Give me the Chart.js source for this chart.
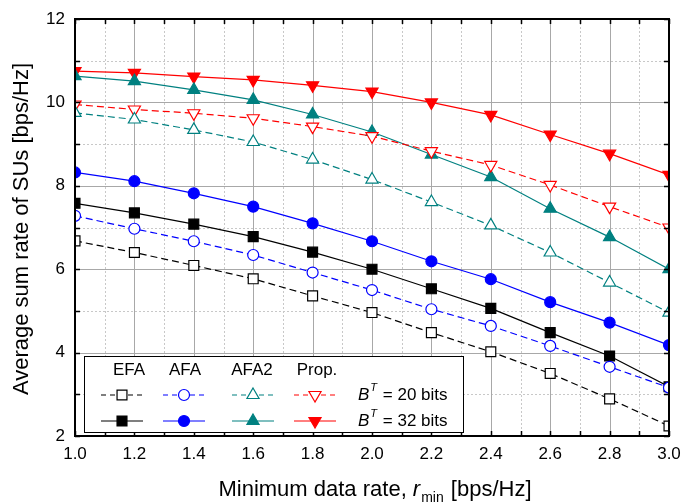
<!DOCTYPE html>
<html>
<head>
<meta charset="utf-8">
<script src="https://cdn.jsdelivr.net/npm/chart.js@4/dist/chart.umd.min.js"></script>
<style>
  html, body { margin: 0; padding: 0; background: #fff; }
  #wrap { width: 683px; height: 503px; }
</style>
</head>
<body>
<div id="wrap"><canvas id="sumRateChart" width="683" height="503"></canvas></div>
<script>
// x values (minimum data rate)
var rMin = [1.0, 1.2, 1.4, 1.6, 1.8, 2.0, 2.2, 2.4, 2.6, 2.8, 3.0];

// B^T = 20 bits (open markers, dashed)
var efa20  = [6.68, 6.40, 6.09, 5.77, 5.36, 4.96, 4.48, 4.02, 3.50, 2.89, 2.24];
var afa20  = [7.28, 6.97, 6.67, 6.34, 5.92, 5.50, 5.04, 4.64, 4.16, 3.66, 3.16];
var afa2_20 = [9.75, 9.59, 9.34, 9.05, 8.63, 8.15, 7.61, 7.05, 6.40, 5.68, 4.96];
var prop20 = [9.95, 9.83, 9.74, 9.62, 9.42, 9.19, 8.83, 8.50, 8.02, 7.50, 7.00];

// B^T = 32 bits (filled markers, solid)
var efa32  = [7.58, 7.35, 7.08, 6.78, 6.41, 6.00, 5.53, 5.06, 4.48, 3.92, 3.18];
var afa32  = [8.32, 8.11, 7.82, 7.50, 7.10, 6.67, 6.19, 5.76, 5.21, 4.72, 4.18];
var afa2_32 = [10.63, 10.51, 10.30, 10.06, 9.71, 9.29, 8.75, 8.21, 7.45, 6.77, 6.00];
var prop32 = [10.75, 10.71, 10.62, 10.54, 10.41, 10.26, 10.00, 9.70, 9.23, 8.77, 8.26];

var schemeNames = ['EFA', 'AFA', 'AFA2', 'Prop.'];
var bitLabels = ['20 bits', '32 bits'];

var FONT = '"Liberation Sans", Arial, sans-serif';
var DASH = [7, 4];

function pts(ys) {
    return rMin.map(function(x, i) { return { x: x, y: ys[i] }; });
}

// style info for each scheme
var styles = [
    { color: '#000000', shape: 'rect',     radius: 7,   rot: 0 },
    { color: '#0000ff', shape: 'circle',   radius: 5.5, rot: 0 },
    { color: '#008080', shape: 'triangle', radius: 7,   rot: 0 },
    { color: '#ff0000', shape: 'triangle', radius: 7,   rot: 180 }
];

function makeSet(label, ys, st, filled) {
    return {
        label: label,
        data: pts(ys),
        showLine: true,
        borderColor: st.color,
        borderWidth: 1.2,
        borderDash: filled ? [] : DASH,
        pointStyle: st.shape,
        pointRotation: st.rot,
        pointRadius: st.radius,
        pointHoverRadius: st.radius,
        pointBackgroundColor: filled ? st.color : '#ffffff',
        pointBorderColor: st.color,
        pointBorderWidth: 1.2,
        clip: 0
    };
}

var datasets = [
    makeSet('EFA 20', efa20, styles[0], false),
    makeSet('AFA 20', afa20, styles[1], false),
    makeSet('AFA2 20', afa2_20, styles[2], false),
    makeSet('Prop. 20', prop20, styles[3], false),
    makeSet('EFA 32', efa32, styles[0], true),
    makeSet('AFA 32', afa32, styles[1], true),
    makeSet('AFA2 32', afa2_32, styles[2], true),
    makeSet('Prop. 32', prop32, styles[3], true)
];

// grid lines (major solid, minor dotted), frame and inward ticks
var gridPlugin = {
    id: 'gridPlugin',
    beforeDatasetsDraw: function(chart) {
        var ctx = chart.ctx, a = chart.chartArea;
        var xs = chart.scales.x, ys = chart.scales.y;
        ctx.save();
        ctx.lineWidth = 1;
        // minor
        ctx.strokeStyle = '#c8c8c8';
        ctx.setLineDash([2, 2]);
        for (var k = 11; k < 30; k += 2) {
            var px = Math.round(xs.getPixelForValue(k / 10)) + 0.5;
            ctx.beginPath(); ctx.moveTo(px, a.top); ctx.lineTo(px, a.bottom); ctx.stroke();
        }
        for (var v = 3; v < 12; v += 2) {
            var py = Math.round(ys.getPixelForValue(v)) + 0.5;
            ctx.beginPath(); ctx.moveTo(a.left, py); ctx.lineTo(a.right, py); ctx.stroke();
        }
        // major
        ctx.setLineDash([]);
        ctx.strokeStyle = '#a8a8a8';
        for (var k2 = 12; k2 < 30; k2 += 2) {
            var px2 = Math.round(xs.getPixelForValue(k2 / 10)) + 0.5;
            ctx.beginPath(); ctx.moveTo(px2, a.top); ctx.lineTo(px2, a.bottom); ctx.stroke();
        }
        for (var v2 = 4; v2 < 12; v2 += 2) {
            var py2 = Math.round(ys.getPixelForValue(v2)) + 0.5;
            ctx.beginPath(); ctx.moveTo(a.left, py2); ctx.lineTo(a.right, py2); ctx.stroke();
        }
        ctx.restore();
    },
    afterDatasetsDraw: function(chart) {
        var ctx = chart.ctx, a = chart.chartArea;
        var xs = chart.scales.x, ys = chart.scales.y;
        ctx.save();
        ctx.strokeStyle = '#000';
        ctx.lineWidth = 1.5;
        for (var k = 10; k <= 30; k++) {
            var px = Math.round(xs.getPixelForValue(k / 10)) + 0.5;
            ctx.beginPath();
            ctx.moveTo(px, a.bottom); ctx.lineTo(px, a.bottom - 5);
            ctx.moveTo(px, a.top); ctx.lineTo(px, a.top + 5);
            ctx.stroke();
        }
        for (var v = 2; v <= 12; v++) {
            var py = Math.round(ys.getPixelForValue(v)) + 0.5;
            ctx.beginPath();
            ctx.moveTo(a.left, py); ctx.lineTo(a.left + 5, py);
            ctx.moveTo(a.right, py); ctx.lineTo(a.right - 5, py);
            ctx.stroke();
        }
        ctx.lineWidth = 2;
        ctx.strokeRect(a.left, a.top, a.right - a.left, a.bottom - a.top);
        ctx.restore();
    }
};

function drawMarker(ctx, st, x, y) {
    Chart.helpers.drawPoint(ctx, {
        pointStyle: st.shape,
        rotation: st.rot,
        radius: st.radius,
        borderWidth: 1.2
    }, x, y);
}

// custom legend table + axis titles
var legendPlugin = {
    id: 'legendPlugin',
    afterDraw: function(chart) {
        var ctx = chart.ctx;
        ctx.save();
        var bx = 84, by = 356, bw = 379, bh = 76;
        ctx.fillStyle = '#fff';
        ctx.fillRect(bx, by, bw, bh);
        ctx.strokeStyle = '#000';
        ctx.lineWidth = 1;
        ctx.strokeRect(bx + 0.5, by + 0.5, bw, bh);

        var heads = [129, 185, 252, 317];
        var marks = [122, 184, 253, 315];
        var rowsY = [395, 421];
        ctx.fillStyle = '#000';
        ctx.font = '17px ' + FONT;
        ctx.textAlign = 'center';
        ctx.textBaseline = 'middle';
        for (var i = 0; i < 4; i++) {
            ctx.fillText(schemeNames[i], heads[i], 370);
        }
        for (var r = 0; r < 2; r++) {
            var filled = r === 1;
            for (var j = 0; j < 4; j++) {
                var st = styles[j];
                ctx.strokeStyle = st.color;
                ctx.lineWidth = 1.2;
                ctx.setLineDash(filled ? [] : [5, 4]);
                ctx.beginPath();
                ctx.moveTo(marks[j] - 21, rowsY[r]);
                ctx.lineTo(marks[j] + 21, rowsY[r]);
                ctx.stroke();
                ctx.setLineDash([]);
                ctx.fillStyle = filled ? st.color : '#fff';
                drawMarker(ctx, st, marks[j], rowsY[r]);
            }
            // B^T = xx bits
            ctx.fillStyle = '#000';
            ctx.textAlign = 'left';
            ctx.font = 'italic 17px ' + FONT;
            var tx = 358;
            ctx.fillText('B', tx, rowsY[r]);
            tx += ctx.measureText('B').width;
            ctx.font = 'italic 11px ' + FONT;
            ctx.fillText('T', tx + 1, rowsY[r] - 7);
            tx += ctx.measureText('T').width + 2;
            ctx.font = '17px ' + FONT;
            ctx.fillText(' = ' + bitLabels[r], tx, rowsY[r]);
            ctx.textAlign = 'center';
        }

        // y axis title
        ctx.fillStyle = '#000';
        ctx.font = '22px ' + FONT;
        ctx.textAlign = 'center';
        ctx.textBaseline = 'middle';
        ctx.save();
        ctx.translate(22, 229);
        ctx.rotate(-Math.PI / 2);
        ctx.fillText('Average sum rate of SUs [bps/Hz]', 0, 0);
        ctx.restore();

        // x axis title with subscript
        var p1 = 'Minimum data rate, ';
        var p2 = 'r';
        var p3 = 'min';
        var p4 = ' [bps/Hz]';
        ctx.font = '22px ' + FONT;
        var w1 = ctx.measureText(p1).width, w4 = ctx.measureText(p4).width;
        ctx.font = 'italic 22px ' + FONT;
        var w2 = ctx.measureText(p2).width;
        ctx.font = '14px ' + FONT;
        var w3 = ctx.measureText(p3).width;
        var total = w1 + w2 + w3 + 2 + w4;
        var x0 = 375 - total / 2, yT = 490;
        ctx.textAlign = 'left';
        ctx.font = '22px ' + FONT;
        ctx.fillText(p1, x0, yT);
        ctx.font = 'italic 22px ' + FONT;
        ctx.fillText(p2, x0 + w1, yT);
        ctx.font = '14px ' + FONT;
        ctx.fillText(p3, x0 + w1 + w2 + 1, yT + 8);
        ctx.font = '22px ' + FONT;
        ctx.fillText(p4, x0 + w1 + w2 + w3 + 2, yT);
        ctx.restore();
    }
};

var ctx = document.getElementById('sumRateChart').getContext('2d');
var myChart = new Chart(ctx, {
    type: 'scatter',
    data: { datasets: datasets },
    options: {
        responsive: false,
        animation: false,
        layout: { padding: { top: 19, right: 14, left: 0, bottom: 0 } },
        plugins: {
            legend: { display: false },
            tooltip: { enabled: false }
        },
        scales: {
            x: {
                type: 'linear',
                min: 1.0,
                max: 3.0,
                grid: { display: false, drawTicks: false },
                border: { display: false },
                ticks: {
                    stepSize: 0.2,
                    autoSkip: false,
                    maxRotation: 0,
                    padding: 8,
                    color: '#000',
                    font: { family: FONT, size: 17 },
                    callback: function(v) { return Number(v).toFixed(1); }
                },
                afterFit: function(scale) {
                    scale.height = 67;
                    scale.paddingLeft = 0;
                    scale.paddingRight = 0;
                }
            },
            y: {
                type: 'linear',
                min: 2,
                max: 12,
                grid: { display: false, drawTicks: false },
                border: { display: false },
                ticks: {
                    stepSize: 2,
                    padding: 10,
                    color: '#000',
                    font: { family: FONT, size: 17 }
                },
                afterFit: function(scale) {
                    scale.width = 75;
                    scale.paddingTop = 0;
                    scale.paddingBottom = 0;
                }
            }
        }
    },
    plugins: [gridPlugin, legendPlugin]
});
</script>
</body>
</html>
